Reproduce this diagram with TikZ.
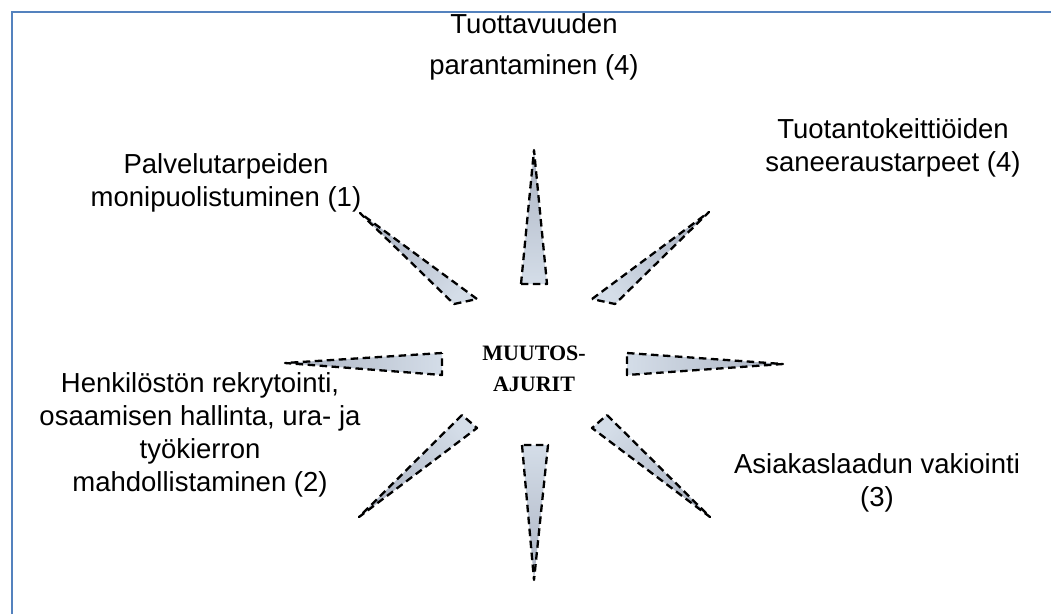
\documentclass[tikz,border=0pt]{standalone}
\usepackage{fontspec}
\setmainfont{Liberation Sans}
\newfontfamily\titlefont{Liberation Serif}
\definecolor{borderblue}{RGB}{84,130,190}
\definecolor{wedgelight}{RGB}{212,221,232}
\definecolor{wedgedark}{RGB}{172,180,195}
\tikzset{
  wedgeshape/.style={draw=black, line width=2.3pt, dash pattern=on 7.5pt off 4.5pt,
    line join=round, top color=wedgedark, bottom color=wedgelight},
  lbl/.style={align=center, inner sep=0pt, font=\fontsize{27.5}{33}\selectfont},
}
\begin{document}
\begin{tikzpicture}[x=1pt,y=-1pt]
\useasboundingbox (0,0) rectangle (1051,614);
\fill[white] (0,0) rectangle (1051,614);
\draw[borderblue, line width=2.6pt] (12,614) -- (12,12) -- (1051,12);

% wedges
\path[wedgeshape, shading angle=0]   (521,284) -- (534,150) -- (547,284) -- cycle;
\path[wedgeshape, shading angle=180] (522,445) -- (534,580) -- (548,445) -- cycle;
\path[wedgeshape, shading angle=90]  (442,353) -- (285,363) -- (442,375) -- cycle;
\path[wedgeshape, shading angle=-90] (627,353) -- (783,364) -- (627,375) -- cycle;
\path[wedgeshape, shading angle=49]  (477,299) -- (360,213) -- (454,304) -- cycle;
\path[wedgeshape, shading angle=-49] (592,299) -- (709,212) -- (615,304) -- cycle;
\path[wedgeshape, shading angle=-131] (607,415) -- (710,517) -- (592,428) -- cycle;
\path[wedgeshape, shading angle=131] (462,415) -- (359,517) -- (477,428) -- cycle;

% centre
\node[align=center, inner sep=0pt, font=\titlefont\bfseries\fontsize{22}{31}\selectfont] (centre) at (534,369) {MUUTOS-\\AJURIT};

% labels
\node[lbl] (top1) at (534,24) {Tuottavuuden};
\node[lbl] (top2) at (534,67) {parantaminen (4)};
\node[lbl] (ur) at (893,148) {Tuotantokeittiöiden\\saneeraustarpeet (4)};
\node[lbl] (ul) at (226,183) {Palvelutarpeiden\\monipuolistuminen (1)};
\node[lbl] (ll) at (200,435) {Henkilöstön rekrytointi,\\osaamisen hallinta, ura- ja\\työkierron\\mahdollistaminen (2)};
\node[lbl] (lr) at (877,483) {Asiakaslaadun vakiointi\\(3)};
\end{tikzpicture}
\end{document}
